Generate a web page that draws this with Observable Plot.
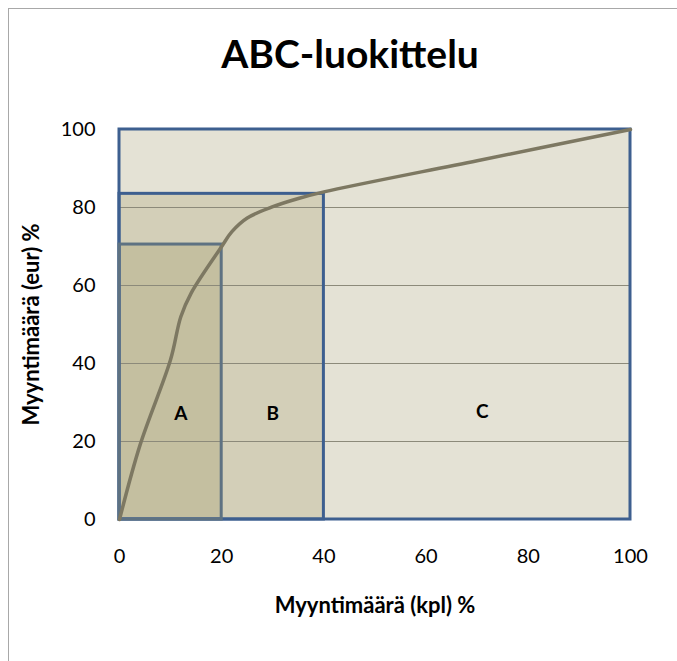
<!DOCTYPE html>
<html>
<head>
<meta charset="utf-8">
<script src="https://cdn.jsdelivr.net/npm/d3@7"></script>
<script src="https://cdn.jsdelivr.net/npm/@observablehq/plot@0.6"></script>
<style>
  body { margin: 0; background: #fff; font-family: Lato, "Open Sans", sans-serif; overflow: hidden; }
  #frame { position: absolute; left: 8px; top: 8px; width: 700px; height: 700px;
           border-top: 1px solid #a8a8a8; border-left: 1px solid #a8a8a8; }
  #title { position: absolute; left: 0; top: 25px; width: 682px; text-align: center;
           font-size: 39px; font-weight: 700; line-height: 39px; color: #000; white-space: nowrap; }
  #chart { position: absolute; left: 0; top: 100px; }
</style>
</head>
<body>
<div id="frame">
  <div id="title">ABC-luokittelu</div>
  <div id="chart"></div>
</div>
<script>
// Cumulative curve (x: Myyntimäärä kpl %, y: Myyntimäärä eur %)
const curveX = [0, 4, 10, 12, 14, 20, 22, 25, 30, 35, 40, 70, 100];
const curveY = [0, 19, 41, 52, 58, 70, 73.8, 77.3, 80.2, 82.3, 84, 92, 100];

// Class regions
const classNames = ["C", "B", "A"];
const classX2 = [100, 40, 20];
const classY2 = [100, 83.5, 70.5];
const classFill = ["#e4e2d5", "#d3cfb8", "#c4bfa0"];
const classStroke = ["#3d5f8f", "#3d5f8f", "#5e7282"];

// Region labels
const labelText = ["A", "B", "C"];
const labelX = [12, 30, 71];
const labelY = [27, 27, 27.5];

const xTicks = [0, 20, 40, 60, 80, 100];
const yTicks = [0, 20, 40, 60, 80, 100];
const gridY = [20, 40, 60, 80];

const xLabel = "Myyntimäärä (kpl) %";
const yLabel = "Myyntimäärä (eur) %";

const curve = curveX.map((x, i) => ({x, y: curveY[i]}));
const regions = classNames.map((n, i) => ({n, x2: classX2[i], y2: classY2[i], fill: classFill[i], stroke: classStroke[i]}));
const labels = labelText.map((t, i) => ({t, x: labelX[i], y: labelY[i]}));

const chart = Plot.plot({
  width: 669,
  height: 560,
  marginLeft: 110,
  marginRight: 48,
  marginTop: 20,
  marginBottom: 150,
  style: { fontFamily: "Lato, 'Open Sans', sans-serif", background: "transparent", overflow: "visible" },
  x: { domain: [0, 100] },
  y: { domain: [0, 100] },
  marks: [
    Plot.rect(regions, { x1: 0, y1: 0, x2: "x2", y2: "y2", fill: "fill" }),
    Plot.ruleY(gridY, { stroke: "#8c8a7a", strokeWidth: 1 }),
    Plot.rect(regions, { x1: 0, y1: 0, x2: "x2", y2: "y2", fill: "none", stroke: "stroke", strokeWidth: 3 }),
    Plot.line(curve, { x: "x", y: "y", curve: "catmull-rom", stroke: "#7d7862", strokeWidth: 3.5 }),
    Plot.text(labels, { x: "x", y: "y", text: "t", fontSize: 19, fontWeight: 700, fill: "#000" }),
    Plot.axisX(xTicks, { tickSize: 0, tickPadding: 29, fontSize: 20, label: null, color: "#000" }),
    Plot.axisY(yTicks, { tickSize: 0, tickPadding: 24, fontSize: 20, label: null, color: "#000" }),
    Plot.text([xLabel], { frameAnchor: "bottom", textAnchor: "middle", lineAnchor: "middle", dy: 86, fontSize: 22, fontWeight: 700, fill: "#000" }),
    Plot.text([yLabel], { frameAnchor: "left", textAnchor: "middle", lineAnchor: "middle", dx: -88, rotate: -90, fontSize: 22, fontWeight: 700, fill: "#000" })
  ]
});
document.getElementById("chart").appendChild(chart);
</script>
</body>
</html>
